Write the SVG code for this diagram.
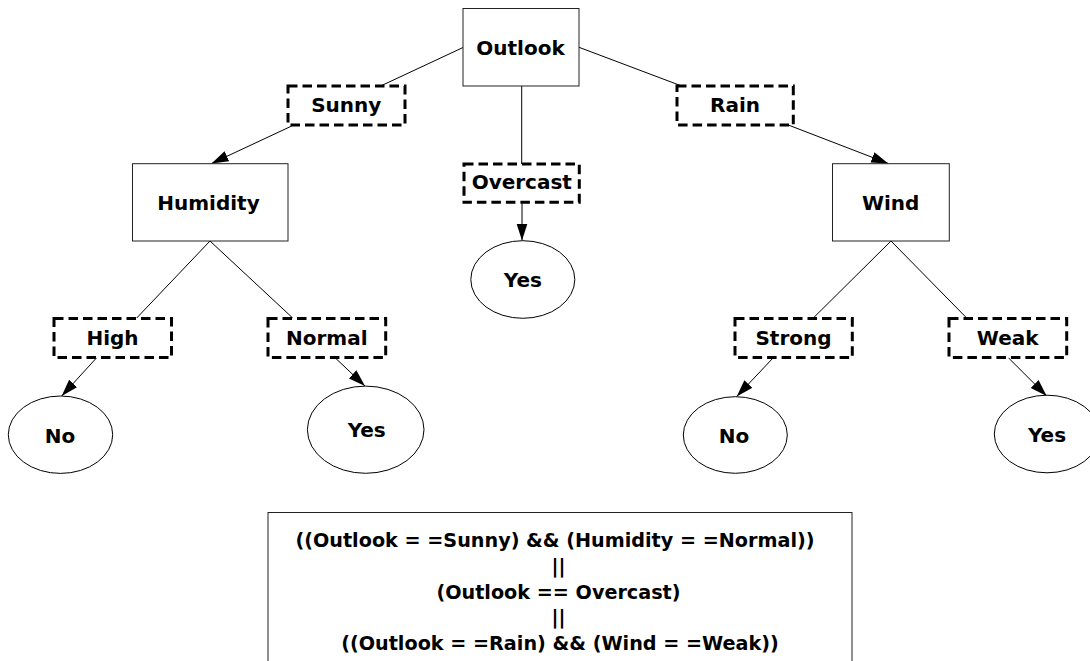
<svg xmlns="http://www.w3.org/2000/svg" width="1090" height="661" viewBox="0 0 1090 661">
  <style>
    .bg { fill: #ffffff; }
    .attr rect { fill: #ffffff; stroke: #222222; stroke-width: 1; }
    .val rect { fill: #ffffff; stroke: #000000; stroke-width: 3; stroke-dasharray: 9.5 5; }
    .leaf ellipse { fill: #ffffff; stroke: #000000; stroke-width: 1; }
    text { font-family: "DejaVu Sans", Verdana, sans-serif; font-weight: bold; font-size: 20px; fill: #000000; text-anchor: middle; }
    .edges line { stroke: #000000; stroke-width: 1; fill: none; }
    .rule rect { fill: #ffffff; stroke: #222222; stroke-width: 1; }
    .rule text { font-size: 19.2px; }
  </style>
  <defs>
    <marker id="arrow" markerUnits="userSpaceOnUse" markerWidth="18" markerHeight="12" refX="17" refY="5.5" orient="auto">
      <path d="M0,0 L17,5.5 L0,11 z" fill="#000000"/>
    </marker>
  </defs>

  <rect class="bg" x="0" y="0" width="1090" height="661"/>

  <!-- tree edges -->
  <g id="edges" class="edges">
    <line x1="463" y1="47.5" x2="381.7" y2="85.5"/>
    <line x1="291.7" y1="126" x2="211.5" y2="163.5" marker-end="url(#arrow)"/>
    <line x1="521.7" y1="86" x2="521.7" y2="164"/>
    <line x1="522" y1="202" x2="522" y2="240.5" marker-end="url(#arrow)"/>
    <line x1="579" y1="47.3" x2="681.7" y2="86"/>
    <line x1="788.3" y1="125" x2="888.3" y2="163.5" marker-end="url(#arrow)"/>
    <line x1="210" y1="241" x2="136.7" y2="318"/>
    <line x1="210" y1="241" x2="292.7" y2="318"/>
    <line x1="96.7" y1="357.7" x2="61.7" y2="396" marker-end="url(#arrow)"/>
    <line x1="335" y1="357.7" x2="365" y2="386" marker-end="url(#arrow)"/>
    <line x1="891" y1="241" x2="813.3" y2="318"/>
    <line x1="891" y1="241" x2="966.7" y2="318"/>
    <line x1="773.3" y1="357.7" x2="736.7" y2="396.5" marker-end="url(#arrow)"/>
    <line x1="1008.3" y1="357.7" x2="1046.7" y2="396" marker-end="url(#arrow)"/>
  </g>

  <!-- attribute nodes -->
  <g id="outlook" class="attr">
    <rect x="463" y="8.5" width="116" height="77.5"/>
    <text x="520.5" y="54.5">Outlook</text>
  </g>
  <g id="humidity" class="attr">
    <rect x="132.5" y="163.7" width="155.5" height="77.3"/>
    <text x="208.5" y="210">Humidity</text>
  </g>
  <g id="wind" class="attr">
    <rect x="832.5" y="163.7" width="116.8" height="77.3"/>
    <text x="890.7" y="209.5">Wind</text>
  </g>

  <!-- branch values -->
  <g id="sunny" class="val">
    <rect x="288" y="86" width="117" height="39"/>
    <text x="346.3" y="112">Sunny</text>
  </g>
  <g id="overcast" class="val">
    <rect x="464" y="164" width="115.3" height="38.3"/>
    <text x="521.8" y="189.3">Overcast</text>
  </g>
  <g id="rain" class="val">
    <rect x="677" y="86" width="116.3" height="39"/>
    <text x="735" y="112">Rain</text>
  </g>
  <g id="high" class="val">
    <rect x="54" y="318.5" width="117.5" height="39"/>
    <text x="112.5" y="345.3">High</text>
  </g>
  <g id="normal" class="val">
    <rect x="268" y="318.5" width="117.7" height="39"/>
    <text x="326.8" y="345.3">Normal</text>
  </g>
  <g id="strong" class="val">
    <rect x="735" y="318.5" width="117.3" height="39"/>
    <text x="793.5" y="345.3">Strong</text>
  </g>
  <g id="weak" class="val">
    <rect x="949" y="318.5" width="117.7" height="39"/>
    <text x="1007.7" y="345.3">Weak</text>
  </g>

  <!-- leaves -->
  <g id="yes-overcast" class="leaf">
    <ellipse cx="522.8" cy="279.5" rx="52" ry="38.8"/>
    <text x="522.8" y="287">Yes</text>
  </g>
  <g id="no-high" class="leaf">
    <ellipse cx="60.5" cy="434.7" rx="52.2" ry="38.7"/>
    <text x="60" y="442.5">No</text>
  </g>
  <g id="yes-normal" class="leaf">
    <ellipse cx="365.7" cy="429.7" rx="58.3" ry="43.6"/>
    <text x="366.7" y="437">Yes</text>
  </g>
  <g id="no-strong" class="leaf">
    <ellipse cx="735.3" cy="435" rx="52" ry="38.3"/>
    <text x="734" y="442.5">No</text>
  </g>
  <g id="yes-weak" class="leaf">
    <ellipse cx="1047" cy="434" rx="52.7" ry="38.8"/>
    <text x="1047" y="442">Yes</text>
  </g>

  <!-- rule derived from the tree -->
  <g id="rule" class="rule">
    <rect x="268" y="512.5" width="584" height="200"/>
    <text x="555" y="547">((Outlook = =Sunny) &amp;&amp; (Humidity = =Normal))</text>
    <text x="558.5" y="572.8">||</text>
    <text x="558.5" y="598.5">(Outlook == Overcast)</text>
    <text x="558.5" y="624.3">||</text>
    <text x="560" y="650">((Outlook = =Rain) &amp;&amp; (Wind = =Weak))</text>
  </g>
</svg>
